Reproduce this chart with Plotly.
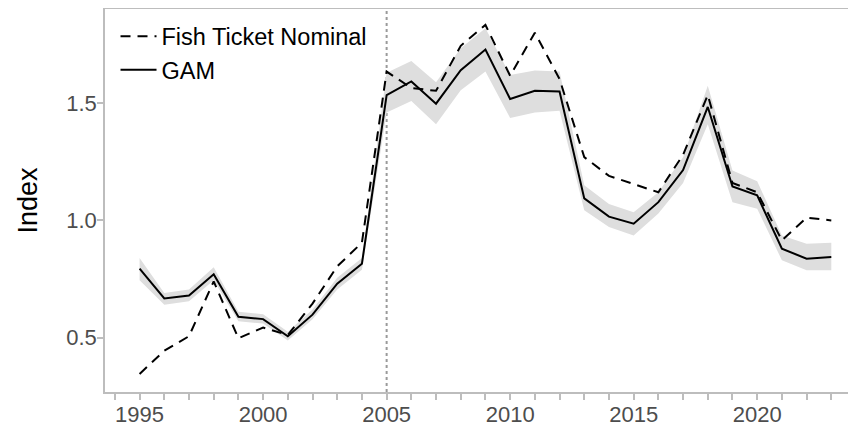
import plotly.graph_objects as go

years = list(range(1995, 2024))
gam = [0.794, 0.667, 0.680, 0.770, 0.589, 0.579, 0.506, 0.598, 0.730, 0.815,
       1.535, 1.593, 1.498, 1.641, 1.729, 1.518, 1.553, 1.550, 1.094, 1.016,
       0.986, 1.078, 1.215, 1.484, 1.145, 1.107, 0.879, 0.837, 0.844]
gam_upper = [0.840, 0.690, 0.705, 0.800, 0.610, 0.600, 0.525, 0.620, 0.755, 0.840,
             1.630, 1.680, 1.590, 1.735, 1.820, 1.620, 1.640, 1.635, 1.150, 1.070,
             1.035, 1.120, 1.270, 1.575, 1.213, 1.167, 0.936, 0.900, 0.905]
gam_lower = [0.745, 0.640, 0.655, 0.745, 0.570, 0.560, 0.488, 0.578, 0.705, 0.790,
             1.460, 1.510, 1.410, 1.555, 1.635, 1.437, 1.460, 1.468, 1.043, 0.972,
             0.936, 1.030, 1.160, 1.410, 1.078, 1.050, 0.830, 0.787, 0.787]
nominal = [0.345, 0.444, 0.506, 0.740, 0.497, 0.543, 0.511, 0.645, 0.804, 0.905,
           1.635, 1.565, 1.553, 1.745, 1.834, 1.617, 1.801, 1.603, 1.270, 1.190,
           1.155, 1.120, 1.280, 1.535, 1.160, 1.120, 0.915, 1.012, 1.000]
reference_year = 2005
y_ticks = [0.5, 1.0, 1.5]

FONT = "Liberation Sans, Arial, sans-serif"
AXIS_GREY = "#bdbdbd"
TEXT_GREY = "#4d4d4d"

fig = go.Figure()

# confidence band
fig.add_trace(go.Scatter(x=years, y=gam_upper, mode="lines", line=dict(width=0),
                         showlegend=False, hoverinfo="skip"))
fig.add_trace(go.Scatter(x=years, y=gam_lower, mode="lines", line=dict(width=0),
                         fill="tonexty", fillcolor="#dedede",
                         showlegend=False, hoverinfo="skip"))

fig.add_trace(go.Scatter(x=years, y=nominal, mode="lines", name="Fish Ticket Nominal",
                         line=dict(color="black", width=2, dash="10px,7px")))
fig.add_trace(go.Scatter(x=years, y=gam, mode="lines", name="GAM",
                         line=dict(color="black", width=2)))

fig.add_vline(x=reference_year, line=dict(color="#9a9a9a", width=2, dash="dot"), layer="below")

# the page body adds an 8px offset, so the figure is sized to end at the window edge
fig.update_layout(
    width=848, height=419,
    margin=dict(l=97, r=0, t=1, b=35, autoexpand=False),
    paper_bgcolor="white", plot_bgcolor="white",
    font=dict(family=FONT, size=22, color=TEXT_GREY),
    legend=dict(x=0.014, y=0.986, xanchor="left", yanchor="top",
                bgcolor="rgba(0,0,0,0)", font=dict(size=23.5, color="black"),
                traceorder="normal", tracegroupgap=0, itemwidth=36),
    showlegend=True,
)

fig.update_xaxes(
    range=[1993.6, 2024.0], showgrid=False, zeroline=False, automargin=False,
    showline=True, linecolor=AXIS_GREY, linewidth=1.5, mirror=True,
    tick0=1995, dtick=5, ticks="outside", ticklen=6, tickcolor=AXIS_GREY, tickwidth=1.5,
    tickfont=dict(size=22, color=TEXT_GREY), ticklabelstandoff=-4,
    minor=dict(dtick=1, tick0=1995, ticks="outside", ticklen=6, tickcolor=AXIS_GREY, tickwidth=1.5, showgrid=False),
)
fig.update_yaxes(
    range=[0.268, 1.902], showgrid=False, zeroline=False, automargin=False,
    showline=True, linecolor=AXIS_GREY, linewidth=1.5,
    tickvals=y_ticks, tickformat=".1f", ticks="outside", ticklen=6,
    tickcolor=AXIS_GREY, tickwidth=1.5, ticklabelstandoff=-4,
    tickfont=dict(size=22, color=TEXT_GREY),
    title=dict(text="Index", font=dict(size=27, color="black"), standoff=21),
)

fig.write_html("out.html")
